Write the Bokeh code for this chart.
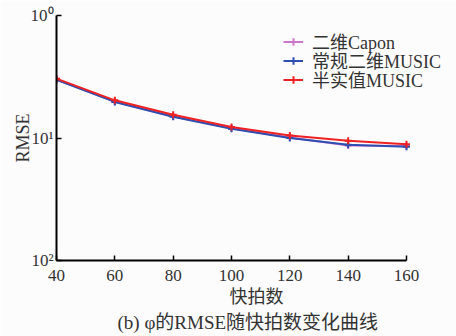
from bokeh.plotting import figure
from bokeh.models import Title, Legend, LegendItem
from bokeh.embed import file_html
from bokeh.resources import INLINE

snapshots = [40, 60, 80, 100, 120, 140, 160]
capon_2d = [0.300, 0.198, 0.150, 0.120, 0.101, 0.087, 0.086]
music_2d = [0.298, 0.197, 0.149, 0.119, 0.100, 0.088, 0.085]
half_real_music = [0.305, 0.203, 0.155, 0.123, 0.105, 0.095, 0.089]

series_names = ["二维Capon", "常规二维MUSIC", "半实值MUSIC"]
series_colors = ["#cc77cc", "#2f4fb0", "#ee2222"]
y_tick_values = [1.0, 0.1, 0.01]
y_tick_labels = ["10⁰", "10¹", "10²"]
caption_text = "(b) φ的RMSE随快拍数变化曲线"

FONT = "'Liberation Serif', 'Noto Sans CJK SC', serif"
TXT = "#333333"

# frame extends right of the x axis so the legend can sit there (axis bounds end at 160)
x_end = 160 + 50 * 120 / 350.0

p = figure(width=456, height=336, output_backend="svg", toolbar_location=None,
           x_range=(40, x_end), y_range=(0.01, 1), y_axis_type="log",
           min_border_left=56, min_border_right=0, min_border_top=15, min_border_bottom=76)
p.background_fill_color = "#fcfcfc"
p.border_fill_color = "#fcfcfc"
p.outline_line_color = None
p.grid.visible = False

renderers = []
for vals, col in zip([capon_2d, music_2d, half_real_music], series_colors):
    l = p.line(snapshots, vals, line_color=col, line_width=2)
    s = p.scatter(snapshots, vals, marker="cross", size=7, line_color=col, line_width=2)
    renderers.append([l, s])

# one single-row legend per series, so the rows can be packed as tightly as in the reference
legend_y = [206, 187, 168]
for name, rend, ly in zip(series_names, renderers, legend_y):
    lg = Legend(items=[LegendItem(label=name, renderers=rend)],
                location=(227, ly), border_line_color=None, background_fill_alpha=0,
                padding=0, margin=0, spacing=0, label_height=19, glyph_height=19, glyph_width=20,
                label_standoff=9, label_text_font=FONT, label_text_font_size="18px",
                label_text_color=TXT)
    p.add_layout(lg, "center")

p.xaxis.ticker = snapshots
p.xaxis.bounds = (40, 160)
p.yaxis.ticker = y_tick_values
p.yaxis.major_label_overrides = {v: t for v, t in zip(y_tick_values, y_tick_labels)}

for ax in [p.xaxis[0], p.yaxis[0]]:
    ax.axis_line_color = "black"
    ax.axis_line_width = 2
    ax.major_tick_line_color = "black"
    ax.major_tick_line_width = 1.5
    ax.major_tick_in = 5
    ax.major_tick_out = 0
    ax.minor_tick_line_color = None
    ax.major_label_text_font = FONT
    ax.major_label_text_font_size = "17px"
    ax.major_label_text_color = TXT
    ax.axis_label_text_font = FONT
    ax.axis_label_text_font_size = "18px"
    ax.axis_label_text_font_style = "normal"
    ax.axis_label_text_color = TXT

p.xaxis.axis_label = "快拍数"
p.xaxis.major_label_standoff = 9
p.xaxis.axis_label_standoff = 3
p.yaxis.axis_label = "RMSE"
p.yaxis.major_label_standoff = 3
p.yaxis.axis_label_standoff = -5

cap = Title(text=caption_text, align="left", text_font=FONT,
            text_font_size="19px", text_font_style="normal", text_color=TXT,
            offset=61, standoff=0)
p.add_layout(cap, "below")

open("out.html", "w").write(file_html(p, INLINE))
